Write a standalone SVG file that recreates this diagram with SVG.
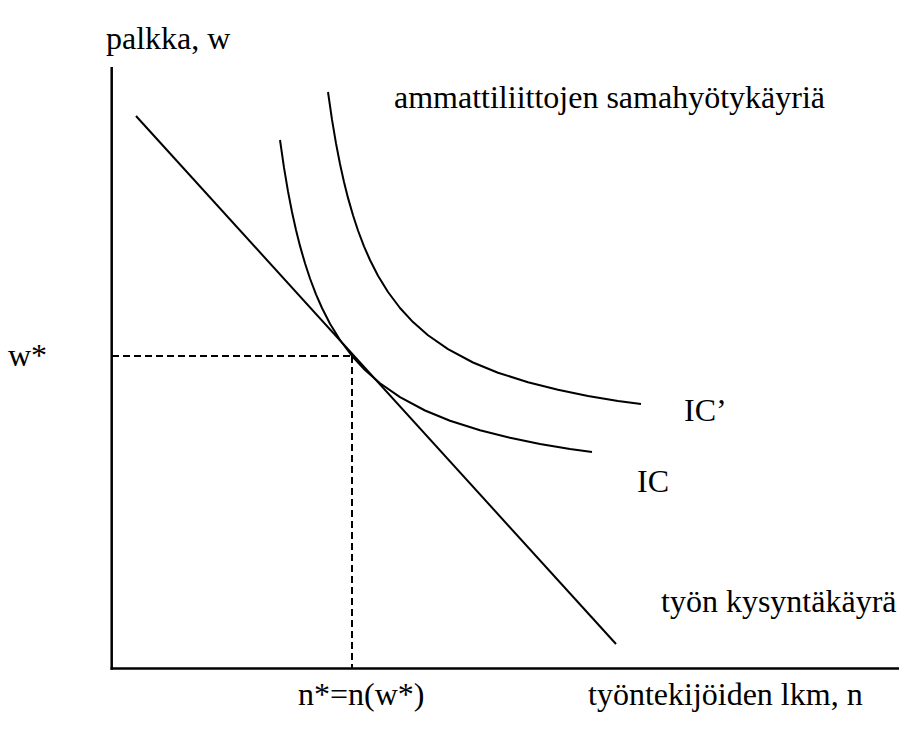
<svg xmlns="http://www.w3.org/2000/svg" width="899" height="738" viewBox="0 0 899 738">
<style>
text{font-family:"Liberation Serif","Times New Roman",serif;font-size:32px;fill:#000}
.ax{stroke:#000;stroke-width:2.5;fill:none}
.crv{stroke:#000;stroke-width:2;fill:none;stroke-linejoin:round;stroke-linecap:butt}
.dash{stroke:#000;stroke-width:2;fill:none;stroke-dasharray:7 4}
</style>
<rect width="899" height="738" fill="#fff"/>
<g id="axes">
<line class="ax" x1="111.7" y1="67" x2="111.7" y2="669.7"/>
<line class="ax" x1="110.5" y1="668.5" x2="899" y2="668.5"/>
</g>
<g id="connectors">
<line class="dash" x1="112" y1="356" x2="352" y2="356"/>
<line class="dash" x1="352" y1="356" x2="352" y2="668"/>
</g>
<g id="demand">
<line class="crv" x1="136" y1="116" x2="616" y2="644"/>
</g>
<g id="ic">
<polyline class="crv" points="280,140 284,167.7 288,191.4 292,212 296,230 300,245.9 305,263.3 310,278.5 316,294.3 322,308 330,323.7 340,340 352,356 365,370.1 380,383.2 400,397.1 425,410.5 450,420.7 480,430.3 510,437.8 540,443.9 570,448.9 592,452"/>
</g>
<g id="ic-prime">
<polyline class="crv" points="328,92 332,119.7 336,143.4 340,164 344,182 348,197.9 353,215.3 358,230.5 364,246.3 370,260 378,275.7 388,292 400,308 413,322.1 428,335.2 448,349.1 473,362.5 498,372.7 528,382.3 558,389.8 588,395.9 618,400.9 641,404"/>
</g>
<g id="labels">
<text x="106" y="49">palkka, w</text>
<text x="394" y="108">ammattiliittojen samahyötykäyriä</text>
<text x="8" y="366">w*</text>
<text x="684" y="421">IC’</text>
<text x="637" y="492">IC</text>
<text x="661" y="612">työn kysyntäkäyrä</text>
<text x="298" y="705">n*=n(w*)</text>
<text x="588" y="705">työntekijöiden lkm, n</text>
</g>
</svg>
